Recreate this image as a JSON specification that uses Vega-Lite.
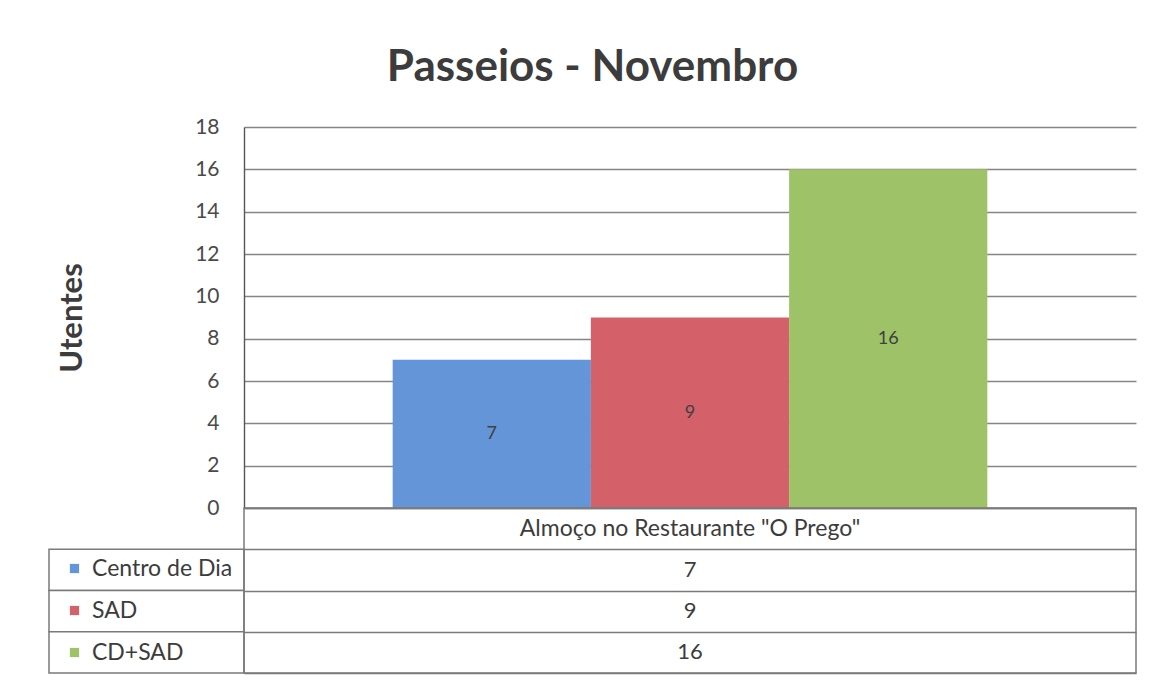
{
  "$schema": "https://vega.github.io/schema/vega-lite/v6.json",
  "background": "white",
  "padding": {"left": 48, "top": 46, "right": 5, "bottom": 5},
  "title": {
    "text": "Passeios - Novembro",
    "font": "Lato",
    "fontSize": 44,
    "fontWeight": "bold",
    "color": "#3c3c3c",
    "anchor": "middle",
    "offset": 26
  },
  "datasets": {
    "bars": [
      {"category": "Almoço no Restaurante \"O Prego\"", "series": "Centro de Dia", "value": 7},
      {"category": "Almoço no Restaurante \"O Prego\"", "series": "SAD", "value": 9},
      {"category": "Almoço no Restaurante \"O Prego\"", "series": "CD+SAD", "value": 16}
    ]
  },
  "columns": 2,
  "spacing": 0,
  "bounds": "flush",
  "concat": [
    {
      "width": 195,
      "height": 381,
      "data": {"values": []},
      "mark": "text",
      "encoding": {}
    },
    {
      "width": 892,
      "height": 381,
      "data": {"name": "bars"},
      "transform": [{"calculate": "datum.value / 2", "as": "mid"}],
      "encoding": {
        "x": {
          "field": "category",
          "type": "nominal",
          "axis": null,
          "scale": {"paddingInner": 0, "paddingOuter": 0.25}
        },
        "xOffset": {
          "field": "series",
          "type": "nominal",
          "sort": ["Centro de Dia", "SAD", "CD+SAD"],
          "scale": {"paddingInner": 0, "paddingOuter": 0}
        }
      },
      "layer": [
        {
          "mark": {"type": "bar"},
          "encoding": {
            "y": {
              "field": "value",
              "type": "quantitative",
              "scale": {"domain": [0, 18], "nice": false},
              "axis": {
                "title": "Utentes",
                "values": [0, 2, 4, 6, 8, 10, 12, 14, 16, 18],
                "grid": true,
                "gridColor": "#858585",
                "gridWidth": 1.4,
                "domain": true,
                "domainColor": "#555555",
                "domainWidth": 1.4,
                "ticks": false,
                "labelFont": "Lato",
                "labelFontSize": 21,
                "labelColor": "#4a4a4a",
                "labelPadding": 25,
                "titleFont": "Lato",
                "titleFontSize": 31,
                "titleFontWeight": "bold",
                "titleColor": "#3c3c3c",
                "titlePadding": 106
              }
            },
            "color": {
              "field": "series",
              "type": "nominal",
              "sort": ["Centro de Dia", "SAD", "CD+SAD"],
              "scale": {
                "domain": ["Centro de Dia", "SAD", "CD+SAD"],
                "range": ["#6495D8", "#D4606A", "#9DC268"]
              },
              "legend": {
                "orient": "none",
                "legendX": 14,
                "legendY": 430,
                "title": null,
                "symbolType": "square",
                "symbolSize": 85,
                "symbolStrokeWidth": 0,
                "labelFont": "Lato",
                "labelFontSize": 23,
                "labelColor": "#3c3c3c",
                "labelOffset": 6,
                "rowPadding": 18,
                "padding": 0
              }
            }
          }
        },
        {
          "mark": {"type": "text", "font": "Lato", "fontSize": 18, "color": "#404040"},
          "encoding": {
            "y": {"field": "mid", "type": "quantitative"},
            "text": {"field": "value", "type": "quantitative"}
          }
        }
      ]
    },
    {
      "width": 195,
      "height": 165,
      "data": {"name": "bars"},
      "mark": {"type": "rect", "fill": "white", "stroke": "#7a7a7a", "strokeWidth": 1.5},
      "encoding": {
        "y": {
          "field": "series",
          "type": "nominal",
          "scale": {
            "domain": ["Almoço no Restaurante \"O Prego\"", "Centro de Dia", "SAD", "CD+SAD"],
            "paddingInner": 0,
            "paddingOuter": 0
          },
          "axis": null
        }
      }
    },
    {
      "width": 892,
      "height": 165,
      "view": {"stroke": "#7a7a7a", "strokeWidth": 1.5},
      "data": {"name": "bars"},
      "encoding": {
        "y": {
          "field": "series",
          "type": "nominal",
          "scale": {
            "domain": ["Almoço no Restaurante \"O Prego\"", "Centro de Dia", "SAD", "CD+SAD"],
            "paddingInner": 0,
            "paddingOuter": 0
          },
          "axis": {
            "title": null,
            "labels": false,
            "ticks": false,
            "domain": false,
            "grid": true,
            "tickBand": "extent",
            "gridColor": "#7a7a7a",
            "gridWidth": 1.5
          }
        }
      },
      "layer": [
        {
          "mark": {"type": "text", "font": "Lato", "fontSize": 22, "color": "#3c3c3c"},
          "encoding": {
            "text": {"field": "value", "type": "quantitative"}
          }
        },
        {
          "transform": [{"aggregate": [{"op": "count", "as": "n"}], "groupby": ["category"]}],
          "mark": {"type": "text", "font": "Lato", "fontSize": 23, "color": "#3c3c3c"},
          "encoding": {
            "y": {"field": "category", "type": "nominal"},
            "text": {"field": "category", "type": "nominal"}
          }
        }
      ]
    }
  ],
  "config": {
    "view": {"stroke": null},
    "font": "Lato"
  }
}
